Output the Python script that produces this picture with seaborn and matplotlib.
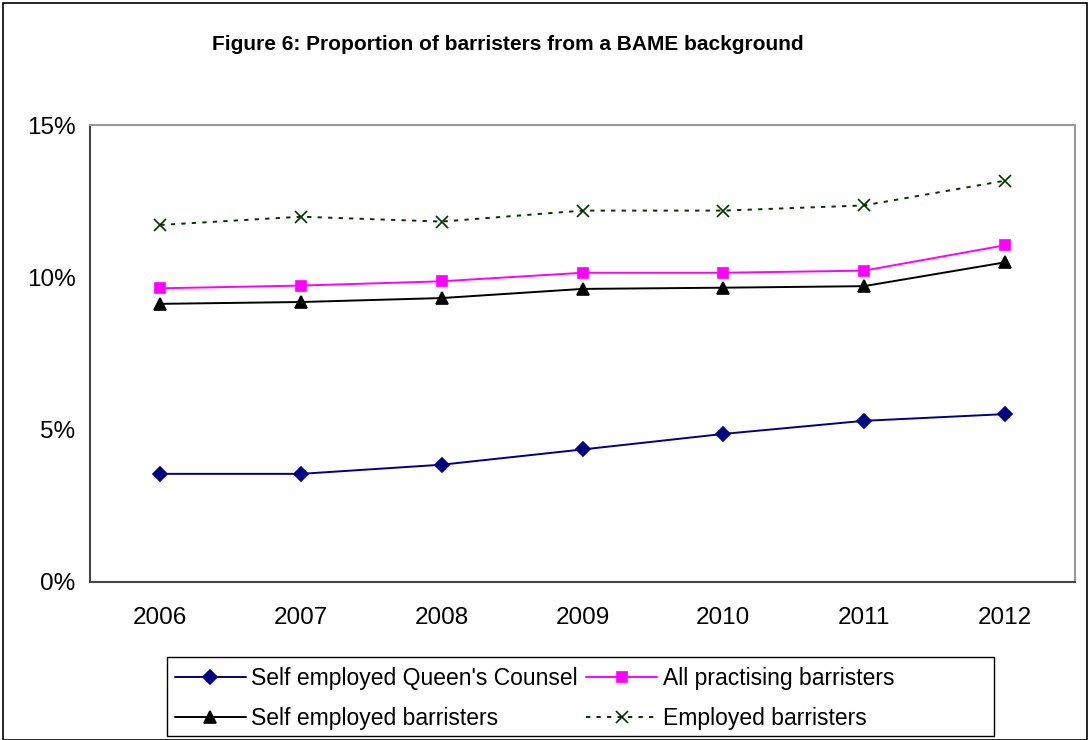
import numpy as np
import pandas as pd
import matplotlib
matplotlib.use("Agg")
import matplotlib.pyplot as plt
from matplotlib.patches import Rectangle
from matplotlib.ticker import PercentFormatter, FixedLocator
import seaborn as sns

# Data (percent)
years = ["2006", "2007", "2008", "2009", "2010", "2011", "2012"]
qc_self_employed = [3.55, 3.55, 3.85, 4.35, 4.86, 5.29, 5.51]
all_practising = [9.64, 9.73, 9.87, 10.15, 10.15, 10.22, 11.05]
self_employed = [9.13, 9.19, 9.32, 9.62, 9.66, 9.71, 10.49]
employed = [11.72, 11.99, 11.83, 12.19, 12.19, 12.36, 13.17]

sns.set_style("white")
plt.rcParams["font.family"] = ["Liberation Sans", "DejaVu Sans"]
plt.rcParams["text.color"] = "black"
plt.rcParams["xtick.labelcolor"] = "black"
plt.rcParams["ytick.labelcolor"] = "black"

W, H = 1090, 740
fig = plt.figure(figsize=(W / 100, H / 100), dpi=100)
ax = fig.add_axes([90 / W, 1 - 582 / H, (1075 - 90) / W, (582 - 125) / H])

pos = np.arange(len(years))

series = [
    ("Self employed Queen's Counsel", qc_self_employed, "#000080", "D", "-", 7),
    ("Self employed barristers", self_employed, "black", "^", "-", 8),
    ("All practising barristers", all_practising, "#FF00FF", "s", "-", 7.5),
    ("Employed barristers", employed, "#003300", "x", (0, (2.2, 3.2)), 8),
]

for name, vals, col, mk, ls, ms in series:
    sns.lineplot(x=pos, y=vals, ax=ax, color=col, marker=mk, linestyle=ls,
                 markersize=ms, markeredgecolor=col, markerfacecolor=col,
                 markeredgewidth=1.2, linewidth=1.4, label=name)

ax.set_xlim(-0.5, len(years) - 0.5)
ax.set_ylim(0, 15)
ax.set_yticks([0, 5, 10, 15])
ax.yaxis.set_major_formatter(PercentFormatter(decimals=0))

# category labels centred, tick marks between categories
ax.set_xticks(pos)
ax.set_xticklabels(years)
ax.xaxis.set_minor_locator(FixedLocator(np.arange(-0.5, len(years), 1.0)))
ax.tick_params(axis="x", which="major", length=0, pad=18, labelsize=17.5)
ax.tick_params(axis="x", which="minor", length=6, width=1, color="#444444", direction="out")
ax.tick_params(axis="y", length=4.5, width=1, color="#444444", direction="out", labelsize=17.5, pad=6)

for side in ["left", "bottom"]:
    ax.spines[side].set_color("#444444")
    ax.spines[side].set_linewidth(1.5)
for side in ["top", "right"]:
    ax.spines[side].set_color("#999999")
    ax.spines[side].set_linewidth(1.5)

ax.set_xlabel("")
ax.set_ylabel("")
ax.get_legend().remove()

fig.text(212 / W, 1 - 45 / H, "Figure 6: Proportion of barristers from a BAME background",
         ha="left", va="center", fontsize=15, fontweight="bold")

handles, labels = ax.get_legend_handles_labels()
leg = fig.legend(handles, labels, ncol=2, loc="upper left",
                 bbox_to_anchor=(170 / W, 1 - 662 / H),
                 fontsize=16.5, frameon=False,
                 handlelength=3.1, handletextpad=0.25,
                 columnspacing=0.35, labelspacing=0.75, borderaxespad=0, borderpad=0.2)

# legend frame drawn separately (wider than the entries, like the original)
fig.patches.append(Rectangle((167 / W, 1 - 736 / H), (994 - 167) / W, (736 - 657) / H,
                             transform=fig.transFigure, fill=False,
                             edgecolor="black", linewidth=1.0))

# outer chart border
fig.patches.append(Rectangle((3 / W, 0), 1084 / W, 737 / H, transform=fig.transFigure,
                             fill=False, edgecolor="black", linewidth=1.2))

fig.savefig("out.png", dpi=100)
